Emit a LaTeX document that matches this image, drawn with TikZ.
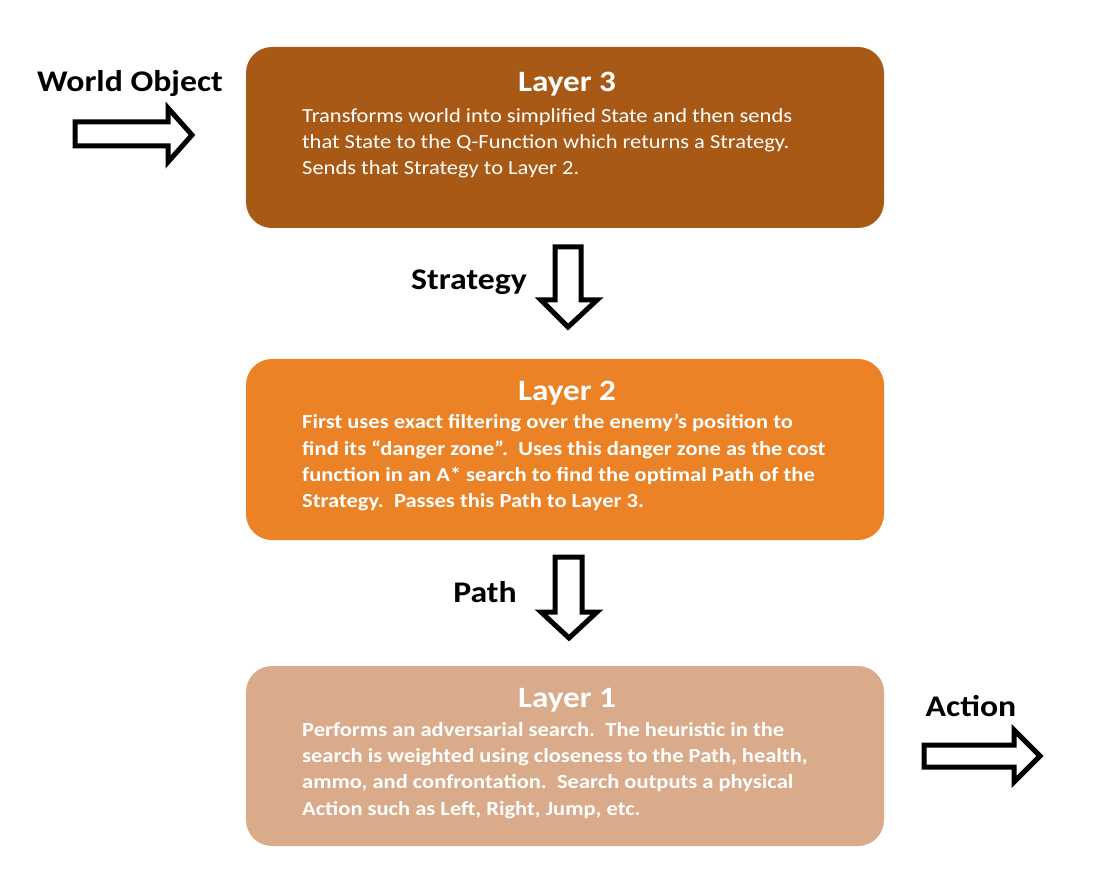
\documentclass[tikz,border=0pt]{standalone}
\usepackage{fontspec}
\setmainfont{Carlito}[FakeStretch=1.125]
\definecolor{lthree}{RGB}{168,89,22}
\definecolor{ltwo}{RGB}{235,130,38}
\definecolor{lone}{RGB}{217,171,138}
\tikzset{
  layerbox/.style={rounded corners=26pt, draw=none},
  titletext/.style={font=\fontsize{29.5}{32}\selectfont\bfseries, text=white, inner sep=0pt, anchor=base},
  bodytext/.style={font=\fontsize{20}{26.3}\selectfont, text=white, inner sep=0pt, anchor=north west, align=left},
  labeltext/.style={font=\fontsize{30}{32}\selectfont\bfseries, text=black, inner sep=0pt, anchor=base},
  fatarrow/.style={draw=black, fill=white, line width=5pt, miter limit=10}
}
\begin{document}
\begin{tikzpicture}[x=1pt,y=-1pt]
\useasboundingbox (0,0) rectangle (1106,882);
\fill[white] (0,0) rectangle (1106,882);

% boxes
\fill[layerbox, fill=lthree] (246,47) rectangle (884,228);
\fill[layerbox, fill=ltwo] (246,359) rectangle (884,540);
\fill[layerbox, fill=lone] (246,666) rectangle (884,846);

% titles
\node[titletext] (t3) at (567,92) {Layer 3};
\node[titletext] (t2) at (567,401) {Layer 2};
\node[titletext] (t1) at (567,707) {Layer 1};

% bodies
\node[bodytext] (b3) at (302,108) {Transforms world into simplified State and then sends\\that State to the Q-Function which returns a Strategy.\\Sends that Strategy to Layer 2.};
\node[bodytext, font=\fontsize{20}{26.3}\selectfont\bfseries] (b2) at (302,414) {First uses exact filtering over the enemy’s position to\\find its “danger zone”.\ \ Uses this danger zone as the cost\\function in an A* search to find the optimal Path of the\\Strategy.\ \ Passes this Path to Layer 3.};
\node[bodytext, font=\fontsize{20}{26.3}\selectfont\bfseries] (b1) at (302,722) {Performs an adversarial search.\ \ The heuristic in the\\search is weighted using closeness to the Path, health,\\ammo, and confrontation.\ \ Search outputs a physical\\Action such as Left, Right, Jump, etc.};

% labels
\node[labeltext] (lw) at (130,92) {World Object};
\node[labeltext] (ls) at (469,290) {Strategy};
\node[labeltext] (lp) at (485,602) {Path};
\node[labeltext] (la) at (971,716) {Action};

% arrows
\draw[fatarrow] (75,122) -- (168,122) -- (168,108) -- (192,135) -- (168,162) -- (168,146) -- (75,146) -- cycle;
\draw[fatarrow] (555,247) -- (581,247) -- (581,300) -- (597,300) -- (568,327) -- (541,300) -- (555,300) -- cycle;
\draw[fatarrow] (555,557) -- (582,557) -- (582,612) -- (597,612) -- (569,638) -- (541,612) -- (555,612) -- cycle;
\draw[fatarrow] (924,745) -- (1014,745) -- (1014,730) -- (1040,756) -- (1014,782) -- (1014,767) -- (924,767) -- cycle;
\end{tikzpicture}
\end{document}
